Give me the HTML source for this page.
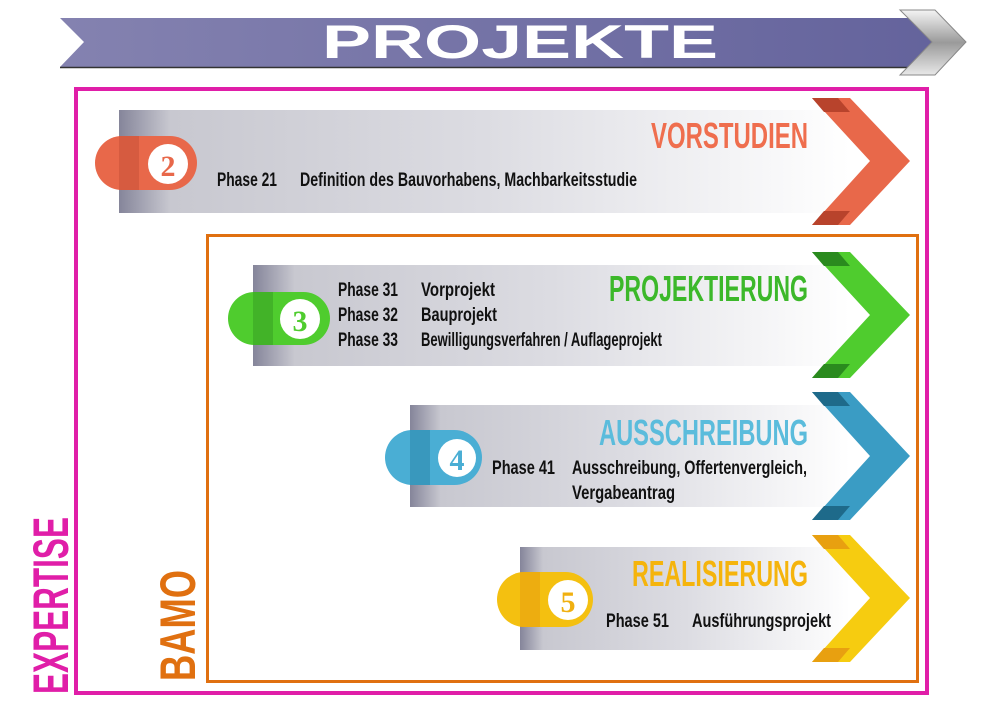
<!DOCTYPE html>
<html><head><meta charset="utf-8"><style>html,body{margin:0;padding:0;background:#fff}svg{display:block}</style></head>
<body>
<svg width="1000" height="716" viewBox="0 0 1000 716" xmlns="http://www.w3.org/2000/svg" font-family="'Liberation Sans Narrow','Liberation Sans',sans-serif">
<defs>
<linearGradient id="ban" x1="0" x2="1"><stop offset="0" stop-color="#8482b0"/><stop offset="1" stop-color="#64639c"/></linearGradient>
<linearGradient id="gch" x1="0" y1="0" x2="0" y2="1"><stop offset="0" stop-color="#f4f4f4"/><stop offset="0.5" stop-color="#9a9a9a"/><stop offset="1" stop-color="#e8e8e8"/></linearGradient>
<linearGradient id="bar" x1="0" x2="1"><stop offset="0" stop-color="#85859a"/><stop offset="0.07" stop-color="#c8c8d0"/><stop offset="0.5" stop-color="#dcdce2"/><stop offset="1" stop-color="#ffffff"/></linearGradient>
</defs>
<polygon points="60,18 935,18 935,67 60,67 84,42" fill="url(#ban)"/>
<line x1="60" y1="67.5" x2="935" y2="67.5" stroke="#333" stroke-width="1.5"/>
<polygon points="900,10 935,10 966,42 935,75 900,75 932,42" fill="url(#gch)" stroke="#888" stroke-width="1"/>
<text x="322" y="58" font-family="'Liberation Sans',sans-serif" font-weight="bold" font-size="47" fill="#fff" textLength="396" lengthAdjust="spacingAndGlyphs">PROJEKTE</text>
<rect x="76" y="89" width="851" height="604" fill="none" stroke="#e01ea8" stroke-width="4"/>
<rect x="207.5" y="235.5" width="710" height="446" fill="none" stroke="#e07010" stroke-width="3"/>
<text transform="translate(68,694) rotate(-90)" font-weight="bold" font-size="50" fill="#e01ea8" textLength="177" lengthAdjust="spacingAndGlyphs">EXPERTISE</text>
<text transform="translate(195,681) rotate(-90)" font-weight="bold" font-size="50" fill="#e07010" textLength="111" lengthAdjust="spacingAndGlyphs">BAMO</text>

<g font-weight="bold">
<!-- Row 1 -->
<rect x="119" y="110" width="731" height="103" fill="url(#bar)"/>
<polygon points="812,98 850,98 910,161 850,225 812,225 870,161" fill="#e8684a"/>
<polygon points="812,98 838,98 850,112 824,112" fill="#b8432c"/>
<polygon points="812,225 838,225 850,211 824,211" fill="#b8432c"/>
<rect x="95" y="136" width="102" height="54" rx="27" fill="#e8684a"/>
<rect x="119" y="136" width="20" height="54" fill="#c9533a" opacity="0.6"/>
<circle cx="168" cy="164" r="20" fill="#fff"/>
<text x="168" y="176" text-anchor="middle" font-family="'Liberation Serif',serif" font-size="30" fill="#e8684a">2</text>
<text x="651" y="148" font-size="36" fill="#ef6e4e" textLength="157" lengthAdjust="spacingAndGlyphs">VORSTUDIEN</text>
<text x="217" y="186" font-size="19" fill="#111" textLength="60" lengthAdjust="spacingAndGlyphs">Phase 21</text>
<text x="300" y="186" font-size="19" fill="#111" textLength="337" lengthAdjust="spacingAndGlyphs">Definition des Bauvorhabens, Machbarkeitsstudie</text>

<!-- Row 2 -->
<rect x="253" y="265" width="597" height="101" fill="url(#bar)"/>
<polygon points="812,252 850,252 910,315 850,378 812,378 870,315" fill="#4fcc2e"/>
<polygon points="812,252 838,252 850,266 824,266" fill="#2a8a1e"/>
<polygon points="812,378 838,378 850,364 824,364" fill="#2a8a1e"/>
<rect x="228" y="292" width="102" height="53" rx="26.5" fill="#4fcc2e"/>
<rect x="253" y="292" width="20" height="53" fill="#3aa224" opacity="0.6"/>
<circle cx="300" cy="319" r="20" fill="#fff"/>
<text x="300" y="331" text-anchor="middle" font-family="'Liberation Serif',serif" font-size="30" fill="#4fcc2e">3</text>
<text x="609" y="301" font-size="36" fill="#3cb82a" textLength="199" lengthAdjust="spacingAndGlyphs">PROJEKTIERUNG</text>
<text x="338" y="296" font-size="19" fill="#111" textLength="60" lengthAdjust="spacingAndGlyphs">Phase 31</text>
<text x="421" y="296" font-size="19" fill="#111" textLength="74" lengthAdjust="spacingAndGlyphs">Vorprojekt</text>
<text x="338" y="321" font-size="19" fill="#111" textLength="60" lengthAdjust="spacingAndGlyphs">Phase 32</text>
<text x="421" y="321" font-size="19" fill="#111" textLength="76" lengthAdjust="spacingAndGlyphs">Bauprojekt</text>
<text x="338" y="346" font-size="19" fill="#111" textLength="60" lengthAdjust="spacingAndGlyphs">Phase 33</text>
<text x="421" y="346" font-size="19" fill="#111" textLength="241" lengthAdjust="spacingAndGlyphs">Bewilligungsverfahren / Auflageprojekt</text>

<!-- Row 3 -->
<rect x="410" y="405" width="440" height="102" fill="url(#bar)"/>
<polygon points="812,392 850,392 910,456 850,520 812,520 870,456" fill="#3a9cc4"/>
<polygon points="812,392 838,392 850,406 824,406" fill="#1e6a8a"/>
<polygon points="812,520 838,520 850,506 824,506" fill="#1e6a8a"/>
<rect x="385" y="430" width="97" height="55" rx="27.5" fill="#4aaed4"/>
<rect x="410" y="430" width="20" height="55" fill="#2e88ae" opacity="0.6"/>
<circle cx="457" cy="458" r="19" fill="#fff"/>
<text x="457" y="470" text-anchor="middle" font-family="'Liberation Serif',serif" font-size="30" fill="#4aaed4">4</text>
<text x="599" y="445" font-size="36" fill="#5bbcdc" textLength="209" lengthAdjust="spacingAndGlyphs">AUSSCHREIBUNG</text>
<text x="492" y="474" font-size="19" fill="#111" textLength="63" lengthAdjust="spacingAndGlyphs">Phase 41</text>
<text x="572" y="474" font-size="19" fill="#111" textLength="235" lengthAdjust="spacingAndGlyphs">Ausschreibung, Offertenvergleich,</text>
<text x="572" y="499" font-size="19" fill="#111" textLength="103" lengthAdjust="spacingAndGlyphs">Vergabeantrag</text>

<!-- Row 4 -->
<rect x="520" y="547" width="330" height="103" fill="url(#bar)"/>
<polygon points="812,535 850,535 910,598 850,662 812,662 870,598" fill="#f6cc10"/>
<polygon points="812,535 838,535 850,549 824,549" fill="#e8a010"/>
<polygon points="812,662 838,662 850,648 824,648" fill="#e8a010"/>
<rect x="497" y="572" width="96" height="55" rx="27.5" fill="#f4c010"/>
<rect x="520" y="572" width="20" height="55" fill="#e8a010" opacity="0.6"/>
<circle cx="568" cy="600" r="20" fill="#fff"/>
<text x="568" y="612" text-anchor="middle" font-family="'Liberation Serif',serif" font-size="30" fill="#f0b010">5</text>
<text x="632" y="586" font-size="36" fill="#f5b40c" textLength="176" lengthAdjust="spacingAndGlyphs">REALISIERUNG</text>
<text x="606" y="627" font-size="19" fill="#111" textLength="63" lengthAdjust="spacingAndGlyphs">Phase 51</text>
<text x="692" y="627" font-size="19" fill="#111" textLength="139" lengthAdjust="spacingAndGlyphs">Ausführungsprojekt</text>
</g>
</svg>
</body></html>
